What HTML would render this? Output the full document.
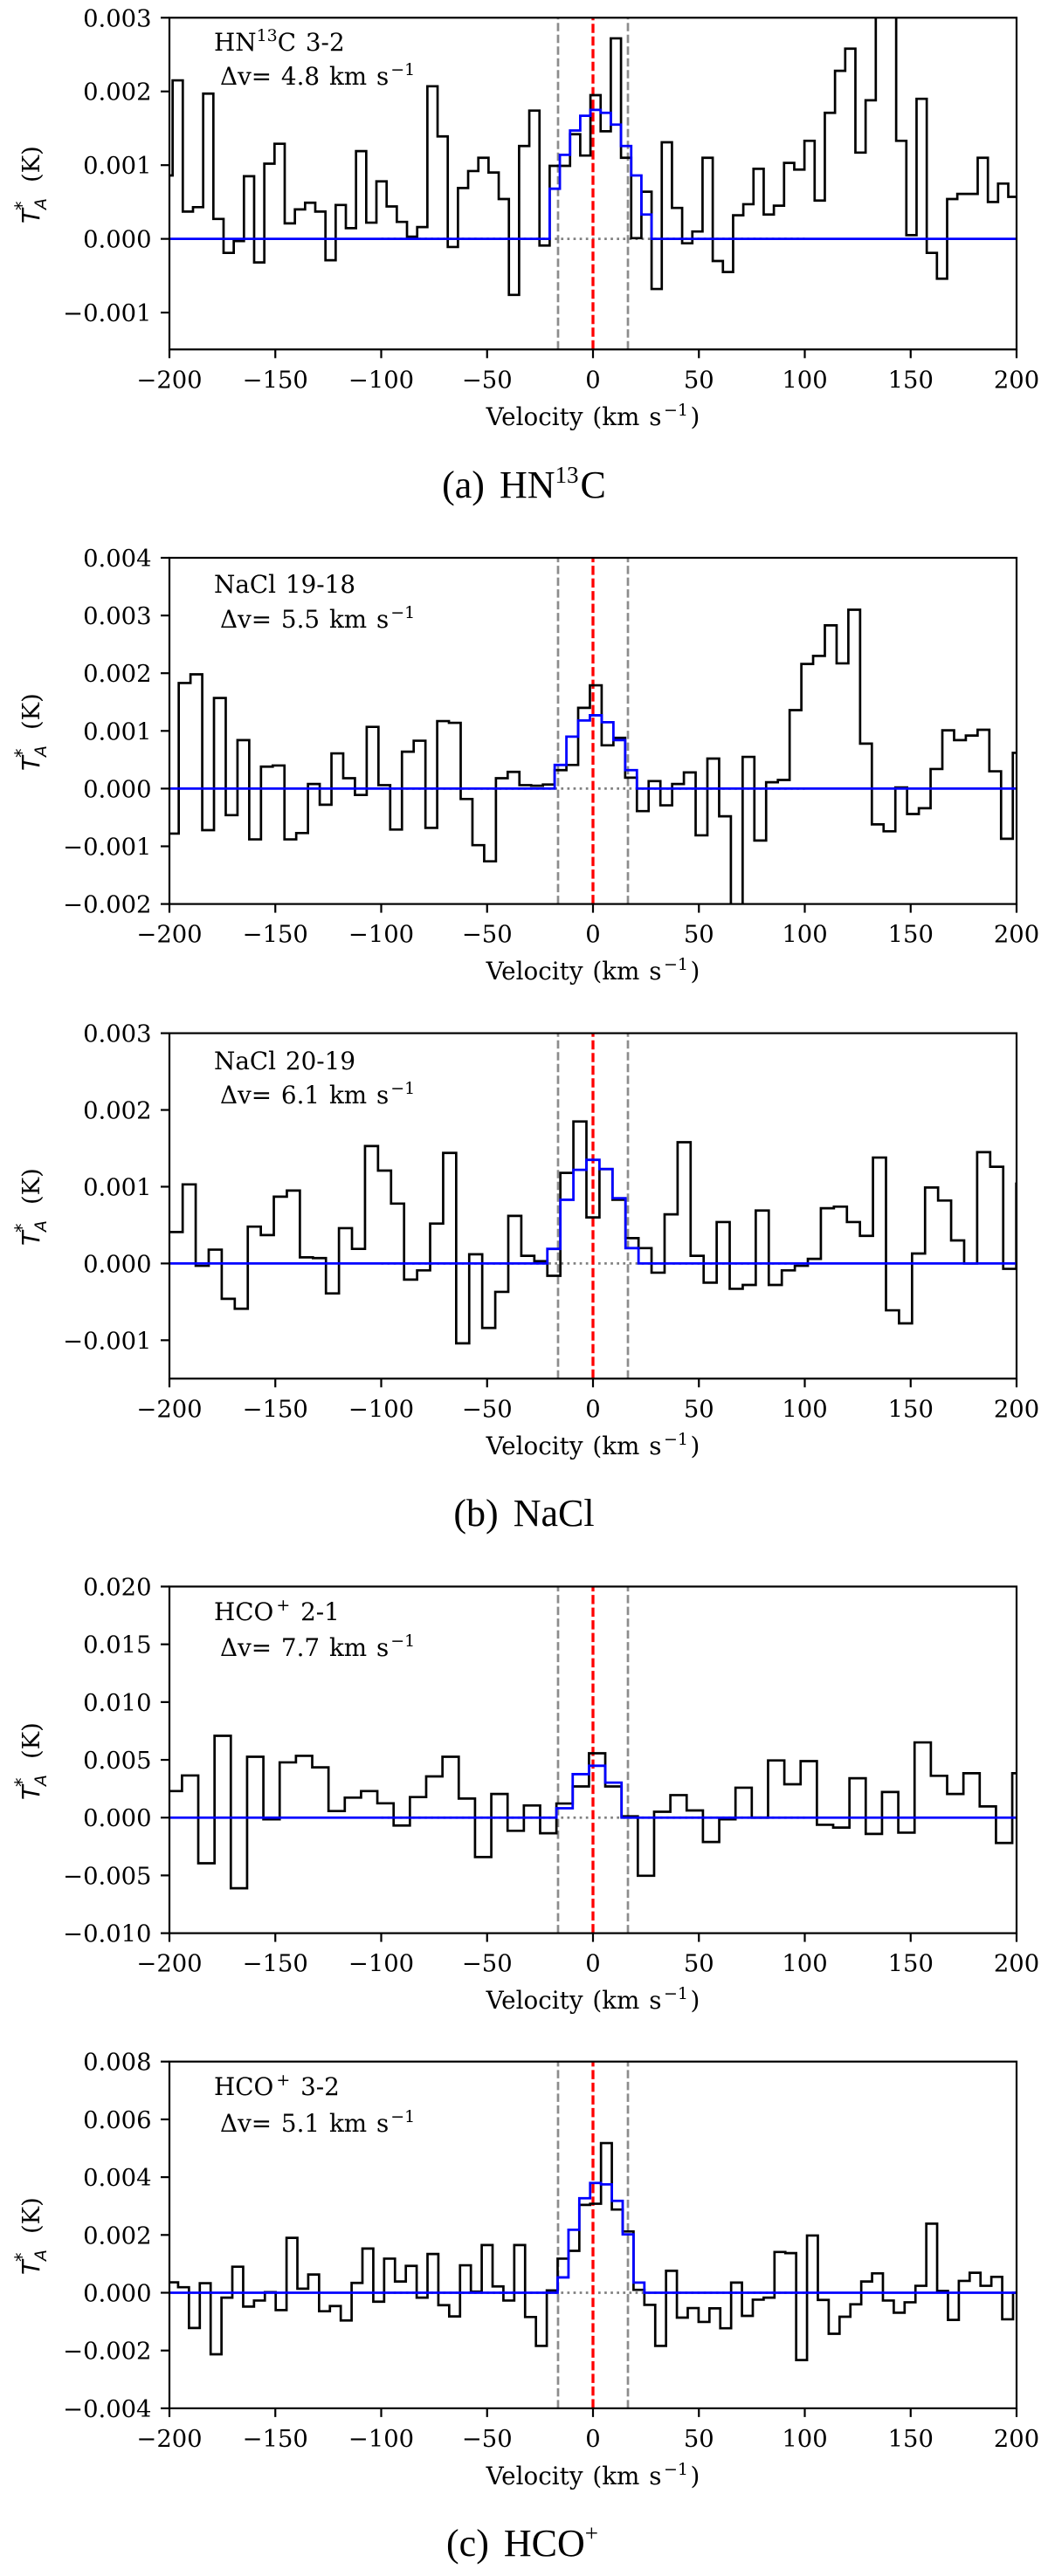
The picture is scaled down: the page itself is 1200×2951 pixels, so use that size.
<!DOCTYPE html>
<html lang="en">
<head>
<meta charset="utf-8">
<title>Spectral line profiles</title>
<style>
html,body{margin:0;padding:0;background:#fff;}
svg{display:block;}
text{fill:#000;}
.k{font-family:"DejaVu Serif","Liberation Serif",serif;font-size:27.4px;}
.t{font-family:"DejaVu Serif","Liberation Serif",serif;font-size:27.8px;word-spacing:2px;}
.m{font-family:"DejaVu Sans","Liberation Sans",sans-serif;font-style:italic;}
.c{font-family:"Liberation Serif","Noto Serif CJK SC",serif;font-size:44px;word-spacing:6px;}
</style>
</head>
<body>
<svg id="figure" xmlns="http://www.w3.org/2000/svg" width="1200" height="2951" viewBox="0 0 1200 2951">
<rect x="0" y="0" width="1200" height="2951" fill="#fff"/>

<g id="panel-hn13c">
  <text class="t" x="245" y="58">HN<tspan font-size="19" dy="-11">13</tspan><tspan dy="11">C 3-2</tspan></text>
  <text class="t" x="252" y="97">Δv= 4.8 km s<tspan font-size="19" dy="-11" dx="2">−1</tspan></text>
  <text class="t" x="679" y="487" text-anchor="middle">Velocity (km s<tspan font-size="19" dy="-11" dx="2.5">−1</tspan><tspan dy="11" dx="2.5">)</tspan></text>
  <text class="k" transform="translate(45,256) rotate(-90)"><tspan class="m" x="0" y="0">T</tspan><tspan class="m" style="font-size:21px" x="15" y="-13">*</tspan><tspan class="m" style="font-size:19px" x="16" y="8">A</tspan><tspan x="47" y="0">(K)</tspan></text>
</g>
<text class="c" x="600" y="570" text-anchor="middle">(a) HN<tspan font-size="27" dy="-17">13</tspan><tspan dy="17" dx="2">C</tspan></text>

<g id="panel-nacl1918">
  <text class="t" x="245" y="679">NaCl 19-18</text>
  <text class="t" x="252" y="719">Δv= 5.5 km s<tspan font-size="19" dy="-11" dx="2">−1</tspan></text>
  <text class="t" x="679" y="1122" text-anchor="middle">Velocity (km s<tspan font-size="19" dy="-11" dx="2.5">−1</tspan><tspan dy="11" dx="2.5">)</tspan></text>
  <text class="k" transform="translate(45,883) rotate(-90)"><tspan class="m" x="0" y="0">T</tspan><tspan class="m" style="font-size:21px" x="15" y="-13">*</tspan><tspan class="m" style="font-size:19px" x="16" y="8">A</tspan><tspan x="47" y="0">(K)</tspan></text>
</g>

<g id="panel-nacl2019">
  <text class="t" x="245" y="1225">NaCl 20-19</text>
  <text class="t" x="252" y="1264">Δv= 6.1 km s<tspan font-size="19" dy="-11" dx="2">−1</tspan></text>
  <text class="t" x="679" y="1666" text-anchor="middle">Velocity (km s<tspan font-size="19" dy="-11" dx="2.5">−1</tspan><tspan dy="11" dx="2.5">)</tspan></text>
  <text class="k" transform="translate(45,1427) rotate(-90)"><tspan class="m" x="0" y="0">T</tspan><tspan class="m" style="font-size:21px" x="15" y="-13">*</tspan><tspan class="m" style="font-size:19px" x="16" y="8">A</tspan><tspan x="47" y="0">(K)</tspan></text>
</g>
<text class="c" x="600" y="1748" text-anchor="middle">(b) NaCl</text>

<g id="panel-hco21">
  <text class="t" x="245" y="1856">HCO<tspan font-size="19" dy="-11" dx="3">+</tspan><tspan dy="11" dx="1"> 2-1</tspan></text>
  <text class="t" x="252" y="1897">Δv= 7.7 km s<tspan font-size="19" dy="-11" dx="2">−1</tspan></text>
  <text class="t" x="679" y="2301" text-anchor="middle">Velocity (km s<tspan font-size="19" dy="-11" dx="2.5">−1</tspan><tspan dy="11" dx="2.5">)</tspan></text>
  <text class="k" transform="translate(45,2062) rotate(-90)"><tspan class="m" x="0" y="0">T</tspan><tspan class="m" style="font-size:21px" x="15" y="-13">*</tspan><tspan class="m" style="font-size:19px" x="16" y="8">A</tspan><tspan x="47" y="0">(K)</tspan></text>
</g>

<g id="panel-hco32">
  <text class="t" x="245" y="2400">HCO<tspan font-size="19" dy="-11" dx="3">+</tspan><tspan dy="11" dx="1"> 3-2</tspan></text>
  <text class="t" x="252" y="2442">Δv= 5.1 km s<tspan font-size="19" dy="-11" dx="2">−1</tspan></text>
  <text class="t" x="679" y="2846" text-anchor="middle">Velocity (km s<tspan font-size="19" dy="-11" dx="2.5">−1</tspan><tspan dy="11" dx="2.5">)</tspan></text>
  <text class="k" transform="translate(45,2606) rotate(-90)"><tspan class="m" x="0" y="0">T</tspan><tspan class="m" style="font-size:21px" x="15" y="-13">*</tspan><tspan class="m" style="font-size:19px" x="16" y="8">A</tspan><tspan x="47" y="0">(K)</tspan></text>
</g>
<text class="c" x="598" y="2928" text-anchor="middle">(c) HCO<tspan font-size="27" dy="-17">+</tspan></text>
</svg>

<script>
// All temperatures are in milli-kelvin (mK); tick labels print kelvin.
const xTicks = [-200, -150, -100, -50, 0, 50, 100, 150, 200];
const xTickLabels = ['−200', '−150', '−100', '−50', '0', '50', '100', '150', '200'];
const lineWindow = [-16.5, 16.5];

const hn13cValues = [0.86,2.15,0.37,0.43,1.97,0.27,-0.19,-0.03,0.85,-0.32,1.02,1.29,0.21,0.40,0.49,0.37,-0.29,0.46,0.145,1.19,0.22,0.78,0.44,0.23,0.03,0.16,2.07,1.39,-0.11,0.69,0.92,1.10,0.90,0.54,-0.76,1.26,1.74,-0.09,0.99,0.99,1.42,1.13,1.95,1.46,2.72,1.10,0.01,0.64,-0.68,1.31,0.42,-0.06,0.10,1.10,-0.30,-0.45,0.32,0.47,0.95,0.33,0.45,1.03,0.94,1.33,0.52,1.71,2.28,2.58,1.17,1.88,3.5,3.4,1.33,0.05,1.90,-0.19,-0.54,0.54,0.61,0.61,1.10,0.50,0.75,0.57];
const hn13cFit = [0.68,1.14,1.47,1.67,1.75,1.71,1.55,1.26,0.86,0.33];
const hn13cFitFirstBin = 38;
const hn13cYTicks = [-1, 0, 1, 2, 3];
const hn13cYTickLabels = ['−0.001', '0.000', '0.001', '0.002', '0.003'];

const nacl1918Values = [-0.78,1.83,1.98,-0.72,1.57,-0.46,0.84,-0.88,0.38,0.40,-0.88,-0.77,0.08,-0.28,0.61,0.18,-0.11,1.07,0.06,-0.71,0.64,0.83,-0.68,1.17,1.14,-0.18,-0.98,-1.26,0.18,0.29,0.06,0.05,0.07,0.32,0.41,1.40,1.79,0.75,0.88,0.19,-0.39,0.13,-0.29,0.08,0.28,-0.81,0.52,-0.48,-2.3,0.55,-0.90,0.11,0.15,1.36,2.16,2.30,2.83,2.17,3.10,0.78,-0.62,-0.74,0.02,-0.44,-0.34,0.34,1.01,0.84,0.92,1.02,0.30,-0.87,0.62];
const nacl1918Fit = [0.41,0.90,1.18,1.27,1.15,0.84,0.32];
const nacl1918FitFirstBin = 33;
const nacl1918YTicks = [-2, -1, 0, 1, 2, 3, 4];
const nacl1918YTickLabels = ['−0.002', '−0.001', '0.000', '0.001', '0.002', '0.003', '0.004'];

const nacl2019Values = [0.41,1.03,-0.03,0.18,-0.46,-0.59,0.48,0.37,0.87,0.95,0.08,0.07,-0.39,0.46,0.19,1.53,1.21,0.78,-0.21,-0.09,0.52,1.44,-1.04,0.12,-0.84,-0.37,0.62,0.10,0.03,-0.16,1.18,1.85,0.60,1.23,0.83,0.33,0.20,-0.12,0.64,1.58,0.10,-0.25,0.54,-0.33,-0.28,0.69,-0.28,-0.09,-0.03,0.06,0.72,0.74,0.54,0.36,1.38,-0.61,-0.78,0.13,0.99,0.82,0.30,0.0,1.45,1.26,-0.07,1.04];
const nacl2019Fit = [0.19,0.83,1.22,1.35,1.23,0.85,0.20];
const nacl2019FitFirstBin = 29;
const nacl2019YTicks = [-1, 0, 1, 2, 3];
const nacl2019YTickLabels = ['−0.001', '0.000', '0.001', '0.002', '0.003'];

const hco21Values = [2.30,3.65,-3.95,7.08,-6.11,5.27,-0.14,4.78,5.35,4.35,0.57,1.73,2.30,1.24,-0.68,1.78,3.57,5.27,1.65,-3.41,2.05,-1.14,1.05,-1.35,1.22,2.70,5.57,2.70,0.11,-5.03,0.51,1.95,0.62,-2.11,-0.14,2.59,0.0,4.95,2.89,4.89,-0.62,-0.86,3.41,-1.41,2.22,-1.30,6.51,3.62,2.05,3.84,0.97,-2.19,3.84];
const hco21Fit = [0.81,3.76,4.49,3.03];
const hco21FitFirstBin = 24;
const hco21YTicks = [-10, -5, 0, 5, 10, 15, 20];
const hco21YTickLabels = ['−0.010', '−0.005', '0.000', '0.005', '0.010', '0.015', '0.020'];

const hco32Values = [0.36,0.19,-1.22,0.33,-2.13,-0.17,0.90,-0.48,-0.27,0.02,-0.60,1.90,0.14,0.63,-0.64,-0.46,-0.96,0.34,1.53,-0.31,1.18,0.39,0.93,-0.17,1.34,-0.43,-0.82,0.95,0.04,1.65,0.22,-0.27,1.65,-0.84,-1.84,0.08,1.18,1.45,3.04,3.08,5.18,2.88,2.12,0.10,-0.42,-1.84,0.76,-0.86,-0.53,-1.01,-0.54,-1.23,0.35,-0.80,-0.24,-0.17,1.41,1.37,-2.33,1.98,-0.25,-1.42,-0.83,-0.40,0.39,0.67,-0.27,-0.69,-0.33,0.24,2.39,0.06,-0.94,0.41,0.69,0.24,0.55,-0.92,0.0];
const hco32Fit = [0.53,2.18,3.27,3.80,3.75,3.18,2.02,0.35];
const hco32FitFirstBin = 36;
const hco32YTicks = [-4, -2, 0, 2, 4, 6, 8];
const hco32YTickLabels = ['−0.004', '−0.002', '0.000', '0.002', '0.004', '0.006', '0.008'];

const SVG_NS = 'http://www.w3.org/2000/svg';
const AX_LEFT = 194, AX_RIGHT = 1164, X_MIN = -200, X_MAX = 200;

const panels = [
  {group:'panel-hn13c', top:20.3, bottom:400.3, yMin:-1.5, yMax:3, firstEdge:-198.5, binWidth:4.812, values:hn13cValues, fit:hn13cFit, fitFirstBin:hn13cFitFirstBin, yTicks:hn13cYTicks, yLabels:hn13cYTickLabels},
  {group:'panel-nacl1918', top:639, bottom:1035.6, yMin:-2, yMax:4, firstEdge:-195.6, binWidth:5.547, values:nacl1918Values, fit:nacl1918Fit, fitFirstBin:nacl1918FitFirstBin, yTicks:nacl1918YTicks, yLabels:nacl1918YTickLabels},
  {group:'panel-nacl2019', top:1183.6, bottom:1579.3, yMin:-1.5, yMax:3, firstEdge:-193.75, binWidth:6.15, values:nacl2019Values, fit:nacl2019Fit, fitFirstBin:nacl2019FitFirstBin, yTicks:nacl2019YTicks, yLabels:nacl2019YTickLabels},
  {group:'panel-hco21', top:1817.5, bottom:2214.6, yMin:-10, yMax:20, firstEdge:-194.07, binWidth:7.687, values:hco21Values, fit:hco21Fit, fitFirstBin:hco21FitFirstBin, yTicks:hco21YTicks, yLabels:hco21YTickLabels},
  {group:'panel-hco32', top:2361.7, bottom:2758.9, yMin:-4, yMax:8, firstEdge:-195.9, binWidth:5.12, values:hco32Values, fit:hco32Fit, fitFirstBin:hco32FitFirstBin, yTicks:hco32YTicks, yLabels:hco32YTickLabels}
];

function xScale(v) {
  return AX_LEFT + (v - X_MIN) / (X_MAX - X_MIN) * (AX_RIGHT - AX_LEFT);
}
function yScale(p, t) {
  return p.bottom - (t - p.yMin) / (p.yMax - p.yMin) * (p.bottom - p.top);
}
function binEdge(p, k) {
  return p.firstEdge + (k - 1) * p.binWidth;
}
function make(tag, attrs) {
  const el = document.createElementNS(SVG_NS, tag);
  for (const key in attrs) {
    el.setAttribute(key, attrs[key]);
  }
  return el;
}
function spectrumPath(p) {
  let d = 'M' + AX_LEFT + ' ' + yScale(p, p.values[0]).toFixed(2);
  for (let k = 1; k < p.values.length; k++) {
    const x = xScale(binEdge(p, k)).toFixed(2);
    d += 'H' + x + 'V' + yScale(p, p.values[k]).toFixed(2);
  }
  return d + 'H' + AX_RIGHT;
}
function fitPath(p) {
  let d = 'M' + AX_LEFT + ' ' + yScale(p, 0).toFixed(2);
  for (let i = 0; i < p.fit.length; i++) {
    const x = xScale(binEdge(p, p.fitFirstBin + i)).toFixed(2);
    d += 'H' + x + 'V' + yScale(p, p.fit[i]).toFixed(2);
  }
  const xEnd = xScale(binEdge(p, p.fitFirstBin + p.fit.length)).toFixed(2);
  d += 'H' + xEnd + 'V' + yScale(p, 0).toFixed(2) + 'H' + AX_RIGHT;
  return d;
}

panels.forEach(function (p, index) {
  const g = document.getElementById(p.group);
  const clipId = 'clip-' + index;

  const clip = make('clipPath', {id: clipId});
  clip.appendChild(make('rect', {x: AX_LEFT, y: p.top, width: AX_RIGHT - AX_LEFT, height: p.bottom - p.top}));
  g.appendChild(clip);

  const marks = make('g', {'clip-path': 'url(#' + clipId + ')'});
  
  
  g.appendChild(marks);

  const zeroLine = make('line', {x1: xScale(-100), x2: xScale(100), y1: yScale(p, 0), y2: yScale(p, 0), stroke: '#808080', 'stroke-width': 2.7, 'stroke-dasharray': '2.7 4.4'});
  
  
  marks.appendChild(zeroLine);

  lineWindow.forEach(function (v) {
    const bound = make('line', {x1: xScale(v), x2: xScale(v), y1: p.bottom, y2: p.top, stroke: '#8c8c8c', 'stroke-width': 2.7, 'stroke-dasharray': '9.5 4'});
    
    
    marks.appendChild(bound);
  });

  const centre = make('line', {x1: xScale(0), x2: xScale(0), y1: p.bottom, y2: p.top, stroke: '#f00', 'stroke-width': 3.3, 'stroke-dasharray': '10.5 4'});
  
  
  marks.appendChild(centre);

  const spectrum = make('path', {d: spectrumPath(p), fill: 'none', stroke: '#000', 'stroke-width': 2.7, 'stroke-linejoin': 'miter'});
  
  
  marks.appendChild(spectrum);

  const fit = make('path', {d: fitPath(p), fill: 'none', stroke: '#0000ff', 'stroke-width': 2.8});
  
  
  marks.appendChild(fit);

  const frame = make('rect', {x: AX_LEFT, y: p.top, width: AX_RIGHT - AX_LEFT, height: p.bottom - p.top, fill: 'none', stroke: '#000', 'stroke-width': 2.2});
  
  
  g.appendChild(frame);

  xTicks.forEach(function (v, i) {
    const tick = make('line', {x1: xScale(v), x2: xScale(v), y1: p.bottom, y2: p.bottom + 10, stroke: '#000', 'stroke-width': 2.2});
    
    
    g.appendChild(tick);
    const label = make('text', {x: xScale(v), y: p.bottom + 44, 'text-anchor': 'middle', class: 'k'});
    
    
    label.textContent = xTickLabels[i];
    g.appendChild(label);
  });

  p.yTicks.forEach(function (t, i) {
    const tick = make('line', {x1: AX_LEFT - 10, x2: AX_LEFT, y1: yScale(p, t), y2: yScale(p, t), stroke: '#000', 'stroke-width': 2.2});
    
    
    g.appendChild(tick);
    const label = make('text', {x: 173.5, y: yScale(p, t) + 10, 'text-anchor': 'end', class: 'k'});
    
    
    label.textContent = p.yLabels[i];
    g.appendChild(label);
  });
});
</script>
</body>
</html>
